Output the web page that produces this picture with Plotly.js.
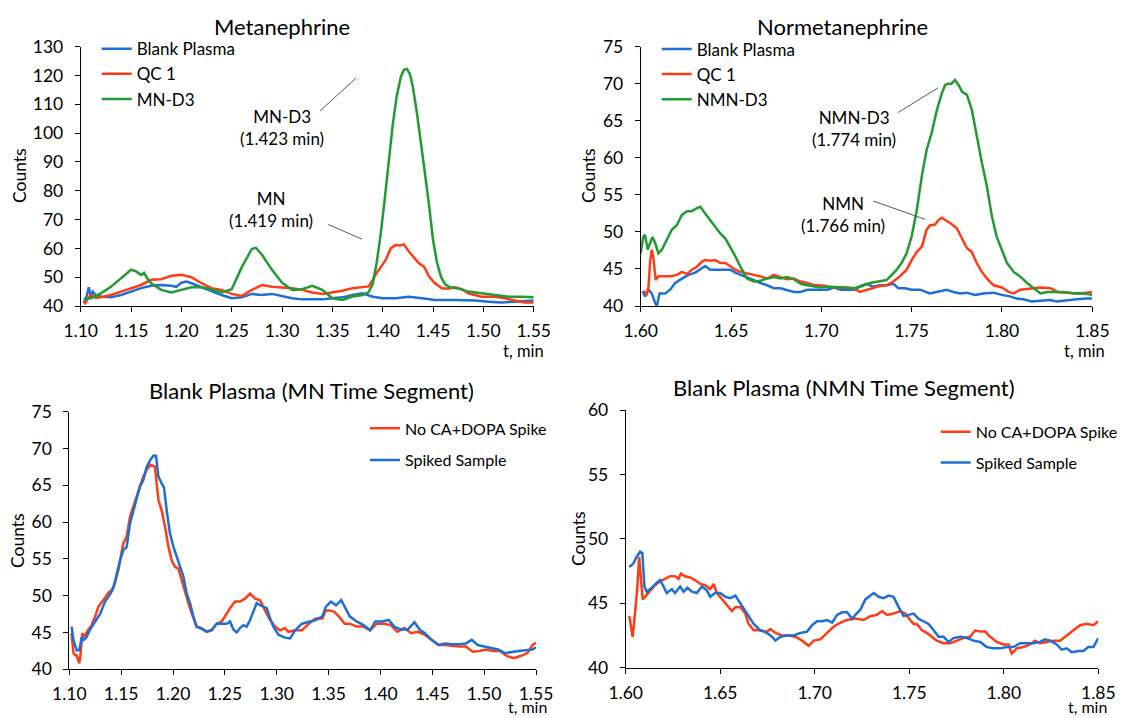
<!DOCTYPE html>
<html>
<head>
<meta charset="utf-8">
<script src="https://cdn.plot.ly/plotly-3.0.1.min.js"></script>
<style>html,body{margin:0;padding:0;background:#fff;}#chart{width:1121px;height:718px;}</style>
</head>
<body>
<div id="chart"></div>
<script>
// ---------------- DATA ----------------
// Panel 1: Metanephrine (t, min / counts)
const mnBlankT = [1.103,1.106,1.108,1.110,1.112,1.115,1.120,1.130,1.140,1.150,1.160,1.170,1.180,1.190,1.195,1.200,1.205,1.210,1.220,1.230,1.240,1.250,1.260,1.270,1.280,1.290,1.300,1.310,1.320,1.330,1.340,1.350,1.360,1.370,1.380,1.390,1.400,1.413,1.426,1.439,1.452,1.472,1.492,1.505,1.518,1.531,1.545,1.550];
const mnBlankY = [41.0,43.5,46.5,43.3,45.0,43.8,43.3,43.0,43.8,45.0,46.2,47.0,47.3,47.0,46.6,48.1,48.5,47.9,46.5,45.3,43.8,42.7,43.0,44.2,43.8,44.2,43.5,42.7,42.3,42.3,42.3,42.7,43.0,43.8,44.4,43.2,42.7,42.7,43.2,42.7,42.1,42.1,41.9,41.5,41.2,41.5,41.7,41.9];
const mnQcT = [1.104,1.107,1.110,1.115,1.120,1.130,1.140,1.150,1.160,1.170,1.180,1.190,1.200,1.210,1.220,1.230,1.240,1.250,1.260,1.270,1.280,1.290,1.300,1.310,1.320,1.330,1.340,1.350,1.360,1.370,1.380,1.386,1.390,1.394,1.398,1.403,1.408,1.413,1.417,1.421,1.426,1.430,1.436,1.441,1.446,1.452,1.459,1.466,1.472,1.479,1.485,1.498,1.512,1.521,1.531,1.541,1.550];
const mnQcY = [40.5,42.7,43.8,42.9,43.0,43.8,45.0,46.2,47.3,49.1,49.3,50.5,50.8,50.0,47.9,46.2,45.6,44.2,43.5,45.6,47.3,46.7,46.5,46.2,45.6,44.7,44.2,44.7,45.3,46.2,46.5,46.8,49.0,51.5,53.4,56.0,60.0,61.2,61.0,61.4,58.9,57.1,54.8,53.7,50.2,47.9,46.1,46.1,46.5,45.8,44.4,43.2,43.2,42.7,41.9,41.2,41.2];
const mnD3T = [1.103,1.110,1.120,1.130,1.140,1.150,1.155,1.160,1.163,1.166,1.170,1.180,1.190,1.200,1.210,1.220,1.230,1.240,1.250,1.260,1.270,1.274,1.280,1.290,1.300,1.310,1.320,1.330,1.340,1.350,1.360,1.370,1.380,1.386,1.390,1.394,1.398,1.402,1.406,1.410,1.414,1.418,1.421,1.424,1.427,1.430,1.434,1.438,1.442,1.446,1.450,1.454,1.458,1.462,1.467,1.475,1.485,1.498,1.511,1.525,1.538,1.550];
const mnD3Y = [42.4,42.7,44.4,46.7,49.6,52.6,52.0,50.8,51.5,49.6,47.9,45.6,44.7,45.6,46.5,46.5,45.8,44.7,45.8,53.5,59.8,60.2,57.8,52.6,48.1,45.6,45.8,47.0,45.6,42.7,42.1,43.3,43.8,44.8,47.5,55.0,65.0,77.0,90.0,103.0,113.0,119.5,122.0,122.3,120.5,116.0,107.0,97.0,86.0,75.0,63.0,55.0,50.0,47.5,46.5,46.1,45.0,44.4,43.8,43.2,43.2,43.0];

// Panel 2: Normetanephrine
const nmnBlankT = [1.6010,1.6024,1.6043,1.6061,1.6080,1.6090,1.6104,1.6135,1.6163,1.6191,1.6228,1.6265,1.6302,1.6330,1.6357,1.6385,1.6422,1.6469,1.6496,1.6524,1.6552,1.6589,1.6626,1.6663,1.6700,1.6737,1.6774,1.6811,1.6848,1.6885,1.6922,1.6959,1.6996,1.7033,1.7070,1.7107,1.7144,1.7181,1.7219,1.7250,1.7287,1.7324,1.7361,1.7399,1.7426,1.7463,1.7500,1.7546,1.7601,1.7638,1.7694,1.7731,1.7768,1.7804,1.7851,1.7897,1.7952,1.7998,1.8044,1.8081,1.8118,1.8164,1.8210,1.8266,1.8303,1.8358,1.8413,1.8469,1.8500];
const nmnBlankY = [42.0,41.3,42.2,41.7,40.4,40.0,41.7,41.7,42.2,43.1,43.7,44.2,44.5,44.9,45.4,44.9,44.9,44.9,44.9,44.5,44.2,43.9,43.4,43.1,42.8,42.4,42.4,42.1,41.9,41.9,42.2,42.2,42.2,42.2,42.5,42.2,42.2,42.2,42.7,43.0,42.6,42.8,42.8,43.0,42.4,42.4,42.2,42.2,41.7,41.9,42.2,41.9,41.7,41.8,41.5,41.7,41.8,41.5,41.3,41.0,40.9,40.6,40.7,40.8,40.6,40.8,40.9,41.0,41.0];
const nmnQcT = [1.6015,1.6033,1.6043,1.6052,1.6061,1.6070,1.6083,1.6098,1.6126,1.6163,1.6200,1.6228,1.6256,1.6283,1.6311,1.6339,1.6357,1.6385,1.6413,1.6441,1.6469,1.6496,1.6524,1.6552,1.6589,1.6626,1.6663,1.6700,1.6737,1.6774,1.6811,1.6848,1.6885,1.6922,1.6959,1.6996,1.7033,1.7070,1.7126,1.7181,1.7213,1.7250,1.7287,1.7324,1.7361,1.7398,1.7435,1.7472,1.7500,1.7528,1.7556,1.7583,1.7602,1.7630,1.7648,1.7667,1.7685,1.7713,1.7750,1.7778,1.7806,1.7833,1.7860,1.7889,1.7917,1.7954,1.8000,1.8037,1.8065,1.8100,1.8157,1.8213,1.8269,1.8306,1.8361,1.8435,1.8500];
const nmnQcY = [42.0,41.6,42.5,46.0,47.6,46.5,43.5,44.0,44.0,44.0,44.2,44.6,44.3,44.9,45.3,46.0,46.2,46.1,46.2,45.8,45.8,45.3,44.9,44.6,44.4,44.3,44.0,43.7,44.2,43.9,43.6,43.7,43.3,43.1,42.8,42.8,42.7,42.5,42.5,42.4,41.9,42.2,42.5,42.7,42.8,43.3,44.0,44.9,46.2,47.3,48.0,50.3,50.9,51.0,51.6,51.9,51.6,51.2,50.5,49.1,47.8,47.3,45.8,44.6,43.7,42.8,42.5,41.9,41.7,42.2,42.4,42.5,42.4,41.9,41.8,41.7,41.9];
const nmnD3T = [1.6000,1.6015,1.6024,1.6039,1.6052,1.6065,1.6080,1.6098,1.6117,1.6144,1.6172,1.6200,1.6228,1.6256,1.6283,1.6311,1.6330,1.6357,1.6385,1.6413,1.6441,1.6469,1.6496,1.6524,1.6552,1.6589,1.6626,1.6663,1.6700,1.6737,1.6774,1.6811,1.6848,1.6885,1.6922,1.6959,1.6996,1.7033,1.7070,1.7126,1.7181,1.7213,1.7269,1.7324,1.7361,1.7390,1.7417,1.7444,1.7472,1.7500,1.7528,1.7556,1.7583,1.7610,1.7640,1.7667,1.7685,1.7700,1.7720,1.7740,1.7760,1.7780,1.7806,1.7833,1.7860,1.7889,1.7917,1.7944,1.7970,1.8000,1.8028,1.8065,1.8100,1.8139,1.8176,1.8213,1.8250,1.8287,1.8343,1.8400,1.8450,1.8500];
const nmnD3Y = [47.1,49.4,49.6,47.6,48.5,49.3,48.5,47.1,47.6,48.9,50.3,50.9,52.3,52.8,52.8,53.2,53.4,52.5,51.6,50.7,49.8,49.1,48.0,46.7,45.3,43.7,43.3,43.4,43.7,43.9,43.7,43.9,43.6,43.0,42.8,42.7,42.5,42.6,42.6,42.5,42.4,42.6,43.1,43.3,43.5,44.2,44.9,45.8,47.1,49.4,52.9,57.5,61.1,63.3,66.5,68.7,69.8,70.0,70.0,70.5,69.8,68.9,68.5,66.5,62.9,59.3,56.1,52.1,49.4,47.6,45.8,44.6,44.0,43.1,42.4,41.7,41.9,41.9,41.9,41.7,41.7,41.5];

// Panel 3: Blank plasma, MN time segment
const segMnNoT = [1.1022,1.1040,1.1055,1.1070,1.1096,1.1110,1.1125,1.1150,1.1183,1.1215,1.1250,1.1280,1.1328,1.1376,1.1410,1.1440,1.1473,1.1505,1.1520,1.1553,1.1585,1.1617,1.1650,1.1680,1.1714,1.1746,1.1780,1.1810,1.1826,1.1859,1.1890,1.1923,1.1955,1.1987,1.2020,1.2051,1.2084,1.2116,1.2148,1.2180,1.2228,1.2276,1.2325,1.2373,1.2421,1.2470,1.2518,1.2550,1.2598,1.2646,1.2695,1.2743,1.2791,1.2839,1.2887,1.2936,1.2984,1.3032,1.3080,1.3112,1.3178,1.3243,1.3310,1.3375,1.3440,1.3474,1.3507,1.3556,1.3605,1.3655,1.3704,1.3770,1.3836,1.3900,1.3967,1.4033,1.4100,1.4163,1.4230,1.4296,1.4360,1.4427,1.4493,1.4560,1.4625,1.4690,1.4757,1.4823,1.4890,1.4955,1.5021,1.5087,1.5153,1.5220,1.5285,1.5350,1.5417,1.5466,1.5500];
const segMnNoY = [44.9,42.2,41.9,41.9,40.8,42.2,44.9,44.5,45.4,46.0,47.2,48.5,49.4,50.4,50.8,51.7,53.5,55.8,57.1,58.0,60.7,62.1,63.7,64.8,66.2,67.1,67.8,67.6,67.5,63.0,61.6,59.4,56.7,54.8,53.9,53.7,52.1,50.3,49.0,47.6,45.8,45.6,45.1,45.3,46.2,46.5,47.6,48.3,49.2,49.2,49.6,50.3,49.6,49.4,48.0,46.7,45.8,45.3,45.6,45.1,45.3,45.3,46.2,46.9,46.9,48.0,48.0,47.8,47.1,46.2,46.2,45.8,45.8,45.3,46.2,46.2,46.0,45.1,45.6,44.9,45.1,44.7,44.0,43.3,43.3,43.2,43.1,43.1,42.4,42.5,42.7,42.5,42.5,41.8,41.5,41.8,42.2,43.3,43.6];
const segMnSpT = [1.1022,1.1040,1.1070,1.1096,1.1120,1.1140,1.1167,1.1200,1.1250,1.1300,1.1344,1.1390,1.1424,1.1457,1.1490,1.1520,1.1553,1.1585,1.1617,1.1650,1.1680,1.1714,1.1746,1.1780,1.1810,1.1836,1.1859,1.1890,1.1913,1.1939,1.1970,1.2003,1.2035,1.2067,1.2100,1.2132,1.2164,1.2196,1.2228,1.2276,1.2325,1.2373,1.2421,1.2470,1.2518,1.2550,1.2582,1.2614,1.2646,1.2678,1.2710,1.2743,1.2775,1.2807,1.2839,1.2871,1.2904,1.2936,1.2968,1.3016,1.3080,1.3129,1.3178,1.3243,1.3310,1.3375,1.3440,1.3474,1.3523,1.3572,1.3622,1.3655,1.3704,1.3770,1.3836,1.3900,1.3950,1.4016,1.4080,1.4132,1.4197,1.4263,1.4329,1.4378,1.4428,1.4493,1.4560,1.4625,1.4690,1.4757,1.4823,1.4880,1.4938,1.5000,1.5069,1.5135,1.5200,1.5267,1.5333,1.5400,1.5466,1.5500];
const segMnSpY = [45.8,44.0,42.6,42.6,44.4,44.0,44.4,45.4,46.5,47.6,49.2,50.1,51.0,53.0,54.8,56.2,56.6,59.8,61.6,63.4,64.8,65.7,67.5,68.4,69.0,69.0,66.2,65.3,64.7,61.6,58.5,56.7,55.3,53.9,52.6,50.3,49.0,47.2,45.8,45.5,45.1,45.3,46.2,46.2,46.2,46.5,45.4,45.0,45.6,46.0,45.8,46.7,48.0,49.0,48.7,48.5,48.3,46.9,45.8,44.7,44.3,44.2,45.3,46.2,46.5,46.7,47.2,48.5,49.2,48.7,49.4,48.5,47.2,46.5,46.0,45.3,46.5,46.5,46.7,45.8,45.4,45.4,46.4,45.4,44.9,44.0,43.3,43.5,43.4,43.4,43.5,44.0,43.3,43.1,42.9,42.7,42.2,42.4,42.5,42.6,42.7,43.0];

// Panel 4: Blank plasma, NMN time segment
const segNmnNoT = [1.6019,1.6028,1.6037,1.6049,1.6062,1.6071,1.6080,1.6090,1.6102,1.6129,1.6155,1.6182,1.6208,1.6235,1.6261,1.6279,1.6292,1.6314,1.6341,1.6367,1.6394,1.6420,1.6447,1.6465,1.6482,1.6509,1.6535,1.6562,1.6580,1.6606,1.6633,1.6650,1.6677,1.6712,1.6747,1.6765,1.6792,1.6827,1.6862,1.6898,1.6933,1.6968,1.6995,1.7030,1.7065,1.7101,1.7136,1.7171,1.7207,1.7224,1.7259,1.7294,1.7329,1.7356,1.7382,1.7417,1.7452,1.7479,1.7505,1.7523,1.7540,1.7567,1.7593,1.7620,1.7646,1.7681,1.7717,1.7752,1.7787,1.7822,1.7849,1.7875,1.7901,1.7928,1.7963,1.7998,1.8025,1.8042,1.8069,1.8104,1.8139,1.8165,1.8192,1.8227,1.8262,1.8298,1.8333,1.8368,1.8403,1.8438,1.8474,1.8500];
const segNmnNoY = [44.0,43.1,42.4,44.2,46.3,48.6,47.1,45.3,45.5,46.0,46.4,46.7,46.9,47.1,47.1,46.9,47.3,47.1,47.0,46.8,46.5,46.4,46.1,46.5,45.8,45.3,44.9,44.4,44.7,44.7,44.2,43.4,42.9,42.9,42.8,43.0,42.7,42.5,42.5,42.4,42.1,41.7,42.1,42.2,42.7,43.2,43.5,43.7,43.8,43.8,43.7,44.0,44.1,44.4,44.1,44.2,44.4,44.2,43.7,43.4,43.4,42.9,42.7,42.4,42.1,41.9,41.9,42.1,42.3,42.4,42.9,42.8,42.8,42.4,42.0,41.8,41.8,41.1,41.5,41.6,41.8,42.1,41.9,42.0,42.1,42.1,42.5,42.9,43.3,43.4,43.3,43.6];
const segNmnSpT = [1.6019,1.6041,1.6058,1.6076,1.6088,1.6099,1.6111,1.6138,1.6164,1.6182,1.6200,1.6217,1.6244,1.6261,1.6288,1.6306,1.6327,1.6350,1.6376,1.6403,1.6429,1.6447,1.6473,1.6500,1.6527,1.6553,1.6580,1.6606,1.6641,1.6677,1.6712,1.6747,1.6774,1.6792,1.6818,1.6853,1.6889,1.6924,1.6959,1.6986,1.7012,1.7039,1.7065,1.7092,1.7118,1.7145,1.7171,1.7198,1.7215,1.7241,1.7268,1.7294,1.7312,1.7338,1.7364,1.7391,1.7417,1.7444,1.7470,1.7496,1.7523,1.7549,1.7576,1.7602,1.7629,1.7655,1.7681,1.7708,1.7734,1.7769,1.7805,1.7840,1.7875,1.7910,1.7945,1.7981,1.8016,1.8051,1.8086,1.8121,1.8157,1.8192,1.8218,1.8245,1.8280,1.8306,1.8333,1.8359,1.8394,1.8421,1.8447,1.8474,1.8500];
const segNmnSpY = [47.8,48.1,48.6,49.0,48.9,46.3,45.9,46.2,46.6,46.8,46.3,45.8,46.1,45.8,46.3,45.9,46.2,45.9,45.8,46.3,46.0,45.5,45.8,45.8,45.5,45.4,45.6,45.0,44.2,43.4,42.9,42.7,42.4,42.1,42.4,42.5,42.5,42.7,42.8,43.3,43.6,43.6,43.7,43.5,44.1,44.3,44.3,43.8,44.1,44.5,45.3,45.6,45.8,45.5,45.4,45.6,45.5,44.7,44.0,44.1,44.2,43.8,43.6,43.4,42.9,42.4,42.4,42.0,42.3,42.4,42.3,42.1,42.0,41.6,41.5,41.5,41.6,41.6,41.9,41.9,41.9,42.0,42.2,42.1,41.8,41.4,41.5,41.2,41.3,41.3,41.6,41.6,42.3];

// Labels
const panelTitles = ["Metanephrine", "Normetanephrine", "Blank Plasma (MN Time Segment)", "Blank Plasma (NMN Time Segment)"];
const seriesNames1 = ["Blank Plasma", "QC 1", "MN-D3"];
const seriesNames2 = ["Blank Plasma", "QC 1", "NMN-D3"];
const seriesNames34 = ["No CA+DOPA Spike", "Spiked Sample"];
const peakLabels = ["MN-D3<br>(1.423 min)", "MN<br>(1.419 min)", "NMN-D3<br>(1.774 min)", "NMN<br>(1.766 min)"];
const yTitle = "Counts";
const xTitle = "t, min";

// ---------------- STYLE ----------------
const BLUE = "#1e6fd3", RED = "#ff3c16", GREEN = "#229b33";
const FONT = "Lato, 'Open Sans', sans-serif";
const LW = 2.5;
const W = 1121, H = 718;
const px = v => v / W;
const py = v => 1 - v / H;

function line(x, y, name, color, xa, ya, leg, grp) {
  return {type: "scatter", mode: "lines", x, y, name, xaxis: xa, yaxis: ya, legend: leg,
    legendgroup: grp, line: {color, width: LW}, hoverinfo: "skip"};
}

const data = [
  line(mnBlankT, mnBlankY, seriesNames1[0], BLUE, "x", "y", "legend", "a1"),
  line(mnQcT, mnQcY, seriesNames1[1], RED, "x", "y", "legend", "a2"),
  line(mnD3T, mnD3Y, seriesNames1[2], GREEN, "x", "y", "legend", "a3"),
  line(nmnBlankT, nmnBlankY, seriesNames2[0], BLUE, "x2", "y2", "legend2", "b1"),
  line(nmnQcT, nmnQcY, seriesNames2[1], RED, "x2", "y2", "legend2", "b2"),
  line(nmnD3T, nmnD3Y, seriesNames2[2], GREEN, "x2", "y2", "legend2", "b3"),
  line(segMnNoT, segMnNoY, seriesNames34[0], RED, "x3", "y3", "legend3", "c1"),
  line(segMnSpT, segMnSpY, seriesNames34[1], BLUE, "x3", "y3", "legend3", "c2"),
  line(segNmnNoT, segNmnNoY, seriesNames34[0], RED, "x4", "y4", "legend4", "d1"),
  line(segNmnSpT, segNmnSpY, seriesNames34[1], BLUE, "x4", "y4", "legend4", "d2")
];

const TICK = 17.5;
function xax(domain, anchor, r0, r1) {
  return {domain, anchor, range: [r0, r1], tick0: r0, dtick: 0.05, tickformat: ".2f",
    showline: true, linecolor: "#000", linewidth: 1, ticks: "outside", ticklen: 5, tickcolor: "#000",
    showgrid: false, zeroline: false, tickfont: {size: TICK, color: "#000"}, ticklabelstandoff: 4,
    automargin: false, fixedrange: true};
}
function yax(domain, anchor, r0, r1, dt) {
  return {domain, anchor, range: [r0, r1], tick0: r0, dtick: dt,
    showline: true, linecolor: "#000", linewidth: 1, ticks: "outside", ticklen: 5, tickcolor: "#000",
    showgrid: false, zeroline: false, tickfont: {size: TICK, color: "#000"}, ticklabelstandoff: 8,
    automargin: false, fixedrange: true};
}
function leg(x, ytop, gap, size) {
  return {x: px(x), y: py(ytop), xanchor: "left", yanchor: "top", bgcolor: "rgba(0,0,0,0)",
    borderwidth: 0, font: {size, color: "#000", family: FONT}, traceorder: "grouped", tracegroupgap: gap};
}

const annotations = [];
function txt(x, y, text, size, opts) {
  annotations.push(Object.assign({xref: "paper", yref: "paper", x: px(x), y: py(y), text, showarrow: false,
    font: {size, color: "#000", family: FONT}, xanchor: "center", yanchor: "middle"}, opts || {}));
}
// titles
txt(282, 26, panelTitles[0], 22);
txt(842, 26, panelTitles[1], 22);
txt(312, 390, panelTitles[2], 22);
txt(844, 388, panelTitles[3], 22);
// y titles
txt(20, 176, yTitle, 17.5, {textangle: -90});
txt(589, 176, yTitle, 17.5, {textangle: -90});
txt(17, 541, yTitle, 17.5, {textangle: -90});
txt(578, 539, yTitle, 17.5, {textangle: -90});
// x titles
txt(546, 351, xTitle, 16.5, {xanchor: "right"});
txt(1107, 351, xTitle, 16.5, {xanchor: "right"});
txt(548, 706.5, xTitle, 16, {xanchor: "right", borderpad: 0});
txt(1108, 706.5, xTitle, 16, {xanchor: "right", borderpad: 0});
// peak labels (data coords)
function dtxt(xr, yr, x, y, text) {
  annotations.push({xref: xr, yref: yr, x, y, text, showarrow: false, align: "center",
    font: {size: 17, color: "#000", family: FONT}, xanchor: "center", yanchor: "middle"});
}
dtxt("x", "y", 1.300, 101.8, peakLabels[0]);
dtxt("x", "y", 1.289, 73.5, peakLabels[1]);
dtxt("x2", "y2", 1.718, 63.9, peakLabels[2]);
dtxt("x2", "y2", 1.712, 52.35, peakLabels[3]);

const LC = "#595959";
const shapes = [
  {type: "line", xref: "x", yref: "y", x0: 1.3377, y0: 107.7, x1: 1.3735, y1: 119.1, line: {color: LC, width: 1}},
  {type: "line", xref: "x", yref: "y", x0: 1.3459, y0: 68.3, x1: 1.3794, y1: 63.2, line: {color: LC, width: 1}},
  {type: "line", xref: "x2", yref: "y2", x0: 1.7423, y0: 66.09, x1: 1.7647, y1: 69.46, line: {color: LC, width: 1}},
  {type: "line", xref: "x2", yref: "y2", x0: 1.7288, y0: 54.17, x1: 1.7574, y1: 51.7, line: {color: LC, width: 1}}
];

const layout = {
  width: W, height: H, margin: {l: 0, r: 0, t: 0, b: 0, pad: 0, autoexpand: false},
  paper_bgcolor: "#fff", plot_bgcolor: "rgba(0,0,0,0)",
  font: {family: FONT, color: "#000", size: 16},
  showlegend: true,
  xaxis: xax([px(80.7), px(533.7)], "y", 1.10, 1.55),
  yaxis: yax([py(306), py(46.7)], "x", 40, 130, 10),
  xaxis2: xax([px(640.7), px(1092.3)], "y2", 1.60, 1.85),
  yaxis2: yax([py(306), py(46.7)], "x2", 40, 75, 5),
  xaxis3: xax([px(69.3), px(536)], "y3", 1.10, 1.55),
  yaxis3: yax([py(669.3), py(411.7)], "x3", 40, 75, 5),
  xaxis4: xax([px(625.7), px(1098.3)], "y4", 1.60, 1.85),
  yaxis4: yax([py(667.7), py(410)], "x4", 40, 60, 5),
  legend: leg(96.7, 31.2, 0, 17),
  legend2: leg(656.7, 31.4, 0, 17),
  legend3: leg(365, 411.4, 8, 16),
  legend4: leg(935.7, 414.8, 7, 16),
  annotations, shapes
};

Plotly.newPlot("chart", data, layout, {staticPlot: true, displayModeBar: false});
</script>
</body>
</html>
